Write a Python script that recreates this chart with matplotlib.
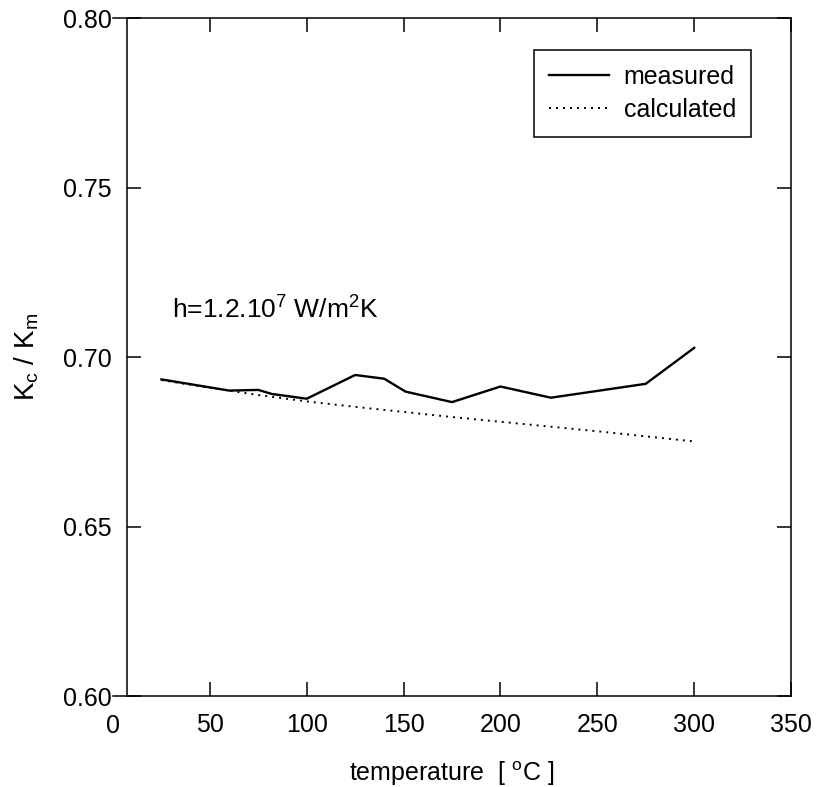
import matplotlib
matplotlib.use('Agg')
import matplotlib.pyplot as plt

plt.rcParams['font.family'] = ['Liberation Sans', 'DejaVu Sans']
plt.rcParams['mathtext.fontset'] = 'custom'
plt.rcParams['mathtext.rm'] = 'Liberation Sans'
plt.rcParams['mathtext.it'] = 'Liberation Sans:italic'

# measured ratio
temp_meas = [25, 60, 75, 82, 100, 125, 140, 151, 175, 200, 226, 250, 275, 300]
k_meas = [0.6934, 0.6901, 0.6903, 0.6891, 0.6877, 0.6947, 0.6936, 0.6898,
          0.6867, 0.6913, 0.6880, 0.6900, 0.6921, 0.7027]

# calculated ratio
temp_calc = [25, 50, 75, 100, 125, 150, 175, 200, 225, 250, 275, 300]
k_calc = [0.6932, 0.6909, 0.6888, 0.6869, 0.6853, 0.6838, 0.6823, 0.6809,
          0.6795, 0.6781, 0.6766, 0.6751]

x_ticks = [50, 100, 150, 200, 250, 300, 350]
y_ticks = [0.60, 0.65, 0.70, 0.75, 0.80]

fig = plt.figure(figsize=(8.16, 7.87), dpi=100)
ax = fig.add_axes([0.1385, 0.1156, 0.8309, 0.8615])

ax.plot(temp_meas, k_meas, color='black', lw=1.7, label='measured')
ax.plot(temp_calc, k_calc, color='black', lw=1.4, linestyle=(0, (1, 2.6)),
        label='calculated')

ax.set_xlim(0, 350)
ax.set_ylim(0.60, 0.80)
ax.spines['left'].set_position(('data', 7.2))
for s in ax.spines.values():
    s.set_linewidth(1.1)

ax.set_xticks(x_ticks)
ax.set_yticks(y_ticks)
ax.set_yticklabels([f'{v:.2f}' for v in y_ticks])
ax.tick_params(direction='in', length=10, width=1.1, labelsize=18,
               top=True, right=True)
ax.tick_params(axis='x', pad=12)
ax.tick_params(axis='y', pad=11)

# "0" label sits left of the y axis line
ax.text(0, 0.60 - 0.0053, '0', ha='center', va='top', fontsize=18,
        clip_on=False)

ax.set_xlabel(r'temperature  [ $^\mathrm{o}$C ]', fontsize=18, labelpad=16)
ax.set_ylabel(r'K$_\mathrm{c}$ / K$_\mathrm{m}$', fontsize=20, labelpad=16)

ax.text(30.5, 0.714, r'h=1.2.10$^\mathrm{7}$ W/m$^\mathrm{2}$K', fontsize=19,
        va='center', ha='left')

leg = ax.legend(loc='upper right', bbox_to_anchor=(0.941, 0.953),
                borderaxespad=0, fontsize=18, handlelength=2.4,
                handletextpad=0.6, labelspacing=0.35, borderpad=0.6,
                fancybox=False, framealpha=1, edgecolor='black')
leg.get_frame().set_linewidth(1.1)

fig.savefig('out.png', dpi=100)
